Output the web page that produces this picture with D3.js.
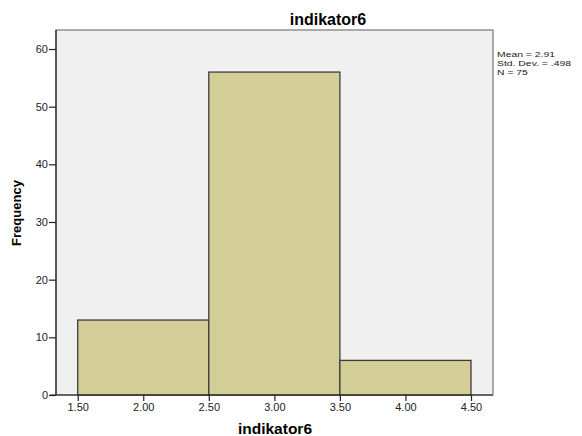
<!DOCTYPE html>
<html>
<head>
<meta charset="utf-8">
<script src="https://cdn.jsdelivr.net/npm/d3@7"></script>
<style>
  body { margin: 0; background: #fff; }
  svg { display: block; font-family: "Liberation Sans", Arial, sans-serif; }
</style>
</head>
<body>
<svg id="chart"></svg>
<script>
const W = 582;
const H = 436;

// histogram bins (lower edge, upper edge) and counts
const binStarts = [1.5, 2.5, 3.5];
const binEnds = [2.5, 3.5, 4.5];
const counts = [13, 56, 6];
const xTicks = [1.5, 2.0, 2.5, 3.0, 3.5, 4.0, 4.5];
const yTicks = [0, 10, 20, 30, 40, 50, 60];
const statLines = ["Mean = 2.91", "Std. Dev. = .498", "N = 75"];

const plot = { left: 56, top: 30, right: 493, bottom: 395 };

const svg = d3.select("#chart").attr("width", W).attr("height", H);

const x = d3.scaleLinear().domain([1.5, 4.5]).range([77.7, 471]);
const y = d3.scaleLinear().domain([0, 60]).range([plot.bottom, 49]);

// plot background
svg.append("rect")
  .attr("x", plot.left).attr("y", plot.top)
  .attr("width", plot.right - plot.left).attr("height", plot.bottom - plot.top)
  .attr("fill", "#f0f0f0")
  .attr("stroke", "#777").attr("stroke-width", 1.2);

// bars
svg.selectAll("rect.bar")
  .data(counts)
  .enter()
  .append("rect")
  .attr("class", "bar")
  .attr("x", (d, i) => x(binStarts[i]))
  .attr("y", d => y(d))
  .attr("width", (d, i) => x(binEnds[i]) - x(binStarts[i]))
  .attr("height", d => y(0) - y(d))
  .attr("fill", "#d3ce97")
  .attr("stroke", "#3c3c3c")
  .attr("stroke-width", 1.3);

// axes
const yAxis = svg.append("g")
  .attr("transform", `translate(${plot.left},0)`)
  .call(d3.axisLeft(y).tickValues(yTicks).tickSize(7).tickSizeOuter(0).tickFormat(d3.format("d")));
yAxis.select(".domain").remove();

const xAxis = svg.append("g")
  .attr("transform", `translate(0,${plot.bottom})`)
  .call(d3.axisBottom(x).tickValues(xTicks).tickSize(6).tickSizeOuter(0).tickFormat(d3.format(".2f")));
xAxis.select(".domain").remove();

svg.append("line")
  .attr("x1", plot.left).attr("x2", plot.left)
  .attr("y1", plot.top).attr("y2", plot.bottom)
  .attr("stroke", "#222").attr("stroke-width", 1.2);

svg.append("line")
  .attr("x1", plot.left - 6).attr("x2", plot.right)
  .attr("y1", plot.bottom).attr("y2", plot.bottom)
  .attr("stroke", "#222").attr("stroke-width", 1.2);

svg.selectAll(".tick line").attr("stroke", "#222").attr("stroke-width", 1.2);
svg.selectAll(".tick text")
  .attr("fill", "#222")
  .style("font-size", "11px")
  .style("font-family", "'Liberation Sans', Arial, sans-serif");
yAxis.selectAll(".tick text").attr("x", -8);
xAxis.selectAll(".tick text").attr("y", 8);

// title and axis labels
svg.append("text")
  .attr("x", 328).attr("y", 25)
  .attr("text-anchor", "middle")
  .style("font-size", "16px").style("font-weight", "bold")
  .text("indikator6");

svg.append("text")
  .attr("x", 275).attr("y", 434)
  .attr("text-anchor", "middle")
  .style("font-size", "15.5px").style("font-weight", "bold")
  .text("indikator6");

svg.append("text")
  .attr("transform", "translate(21,213) rotate(-90)")
  .attr("text-anchor", "middle")
  .style("font-size", "13px").style("font-weight", "bold")
  .text("Frequency");

// statistics: short, wide glyphs like the original
svg.append("g")
  .attr("transform", "translate(497,57) scale(1.3,1)")
  .selectAll("text")
  .data(statLines)
  .enter()
  .append("text")
  .attr("x", 0)
  .attr("y", (d, i) => i * 9.2)
  .style("font-size", "8px")
  .attr("fill", "#222")
  .text(d => d);
</script>
</body>
</html>
